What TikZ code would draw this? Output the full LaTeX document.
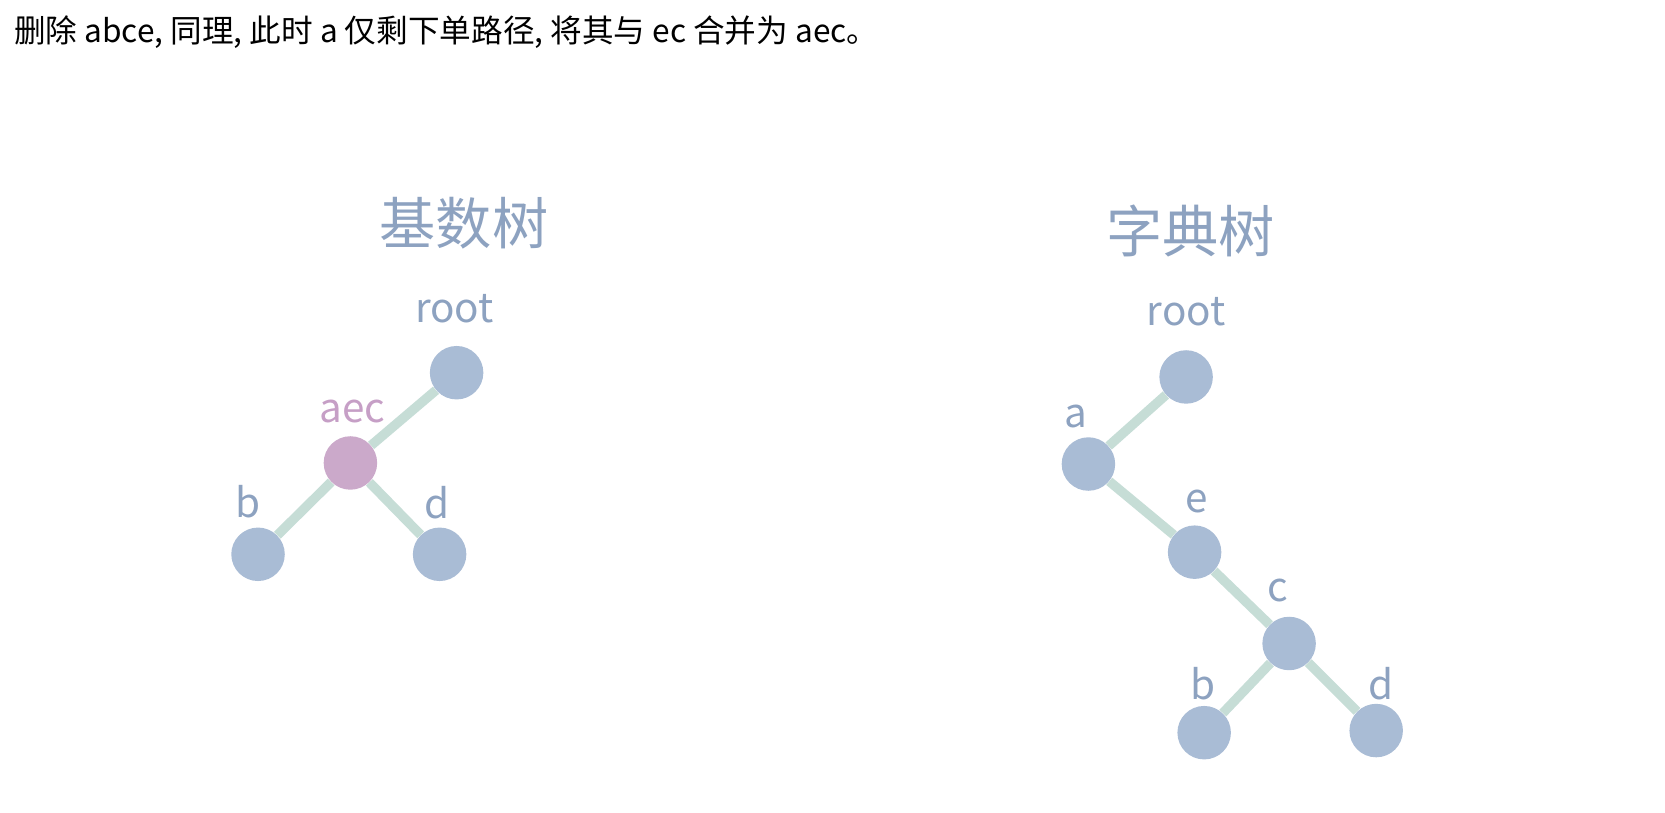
\documentclass[tikz,border=0pt]{standalone}
\usepackage{fontspec}
\setmainfont{Noto Sans CJK SC}
\usepackage{tikz}
\usetikzlibrary{calc}

\definecolor{nodeblue}{HTML}{A9BCD5}
\definecolor{nodepink}{HTML}{CBA9CA}
\definecolor{edgegreen}{HTML}{C6DDD6}
\definecolor{labelblue}{HTML}{8DA2C0}
\definecolor{labelpink}{HTML}{C69FC6}

\begin{document}
\begin{tikzpicture}[x=0.02124cm,y=-0.02124cm,
  treenode/.style={circle,fill=nodeblue,minimum size=1.07cm,inner sep=0pt},
  treeedge/.style={draw=edgegreen,line width=0.19cm},
  treelabel/.style={text=labelblue,anchor=base,inner sep=0pt,font=\fontsize{23}{25}\selectfont},
  treetitle/.style={text=labelblue,anchor=base,inner sep=0pt,font=\fontsize{32}{35}\selectfont}]
  \useasboundingbox (0,0) rectangle (1568,765.6);

  %% Header line
  \node[anchor=base west,inner sep=0pt,font=\fontsize{18}{21}\selectfont] (HEAD) at (13,40)
    {删除 abce, 同理, 此时 a 仅剩下单路径, 将其与 ec 合并为 aec。};

  %% Radix tree (left)
  \node[treetitle] (RTITLE) at (437,230) {基数树};
  \foreach \n/\x/\y in {root/430/351,b/243/522,d/414/522}
  {
    \node[treenode] (R\n) at (\x,\y) {};
  }
  \node[treenode,fill=nodepink] (Raec) at (330,436) {};
  \draw[treeedge] (Rroot) -- (Raec);
  \draw[treeedge] (Raec) -- (Rb);
  \draw[treeedge] (Raec) -- (Rd);

  \foreach \n/\x/\y in {root/428/304,b/234/487,d/412/488}
  {
    \node[treelabel] (LR\n) at (\x,\y) {\n};
  }
  \node[treelabel,text=labelpink] (LRaec) at (332,398) {aec};

  %% Trie (right)
  \node[treetitle] (TTITLE) at (1121,238) {字典树};
  \foreach \n/\x/\y in {root/1117/355,a/1025/437,e/1125/520,c/1214/606,b/1134/690,d/1296/688}
  {
    \node[treenode] (T\n) at (\x,\y) {};
  }
  \draw[treeedge] (Troot) -- (Ta);
  \draw[treeedge] (Ta) -- (Te);
  \draw[treeedge] (Te) -- (Tc);
  \draw[treeedge] (Tc) -- (Tb);
  \draw[treeedge] (Tc) -- (Td);

  \foreach \n/\x/\y in {root/1117/307,a/1013/403,e/1127/483,c/1203/566,b/1133/659,d/1301/659}
  {
    \node[treelabel] (LT\n) at (\x,\y) {\n};
  }
\end{tikzpicture}
\end{document}
